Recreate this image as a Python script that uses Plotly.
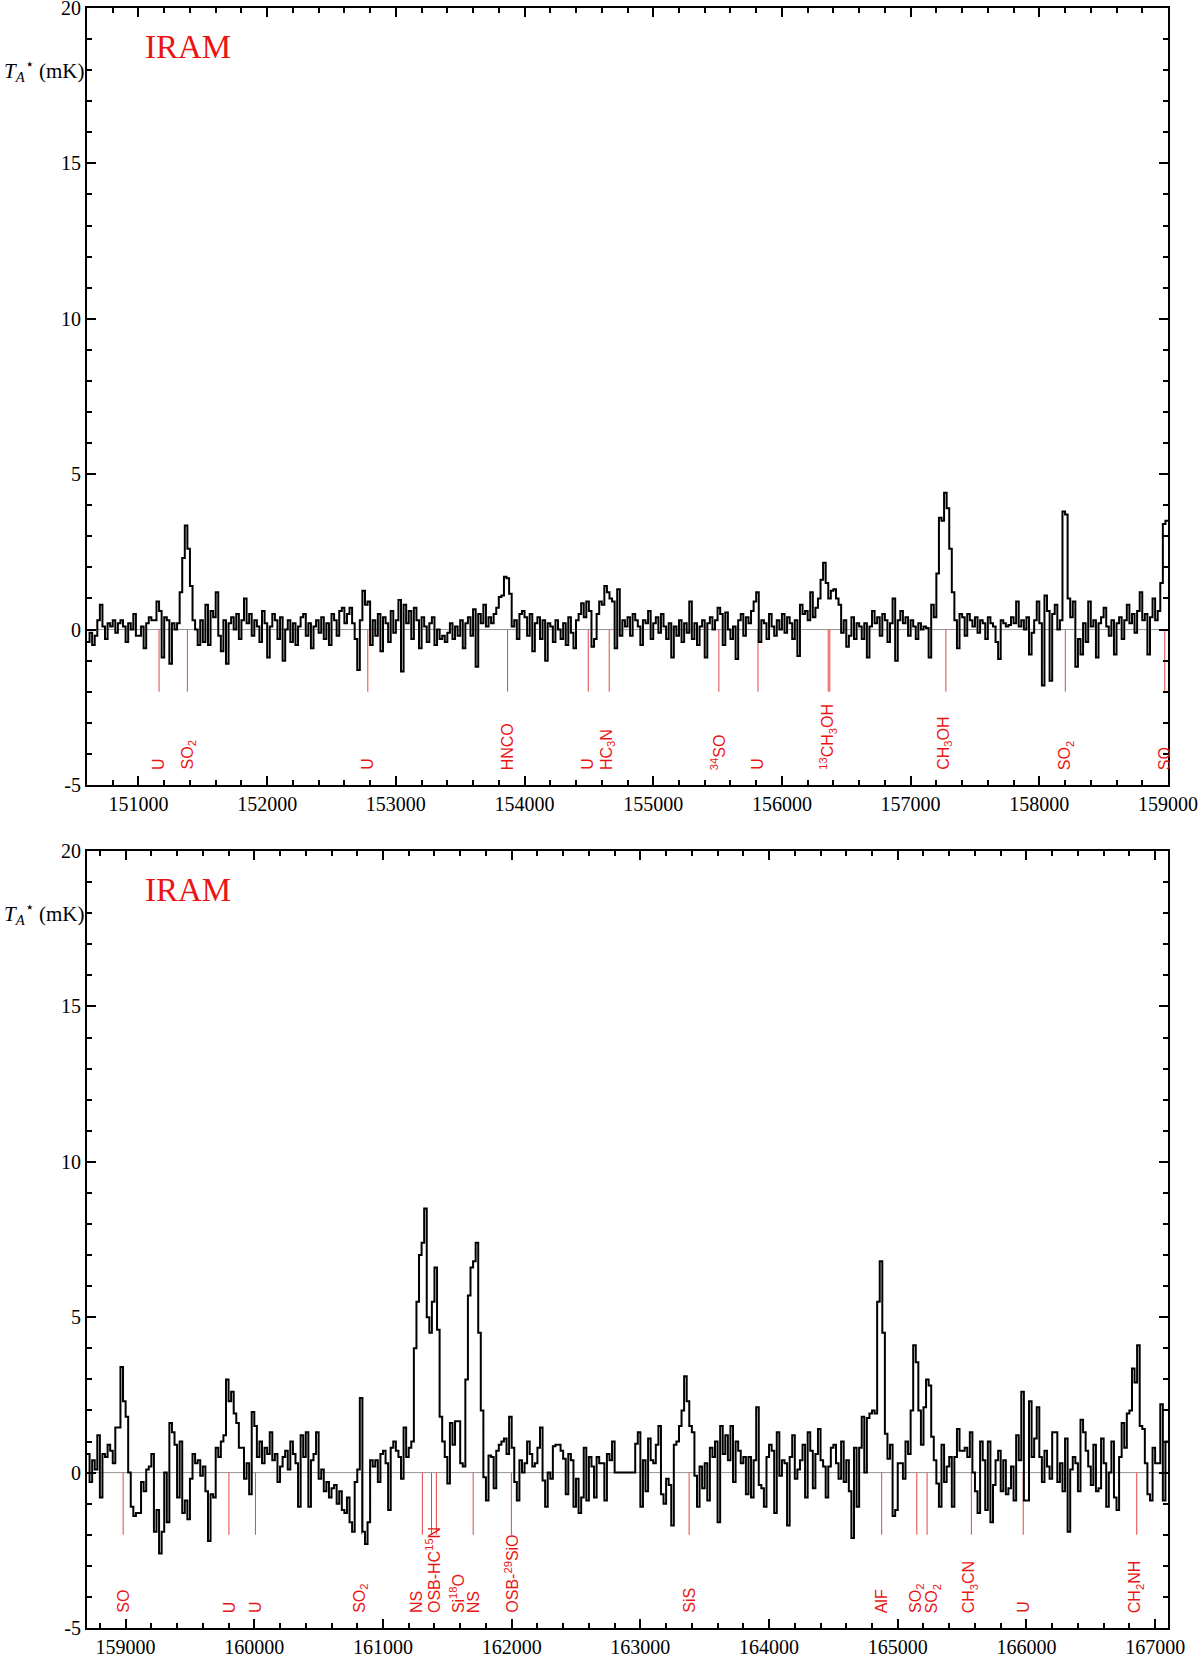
import plotly.graph_objects as go

# ---------------- data ----------------
CHANNEL_MHZ = 20
TOP_START = 150600
BOT_START = 158700
TOP_RANGE = [150600, 159000]
BOT_RANGE = [158700, 167100]
Y_RANGE = [-5, 20]

# antenna temperature (mK), 20 MHz channels, top panel starting at 150600 MHz
top_ta = [
    -0.4, -0.1, -0.5, -0.2, 0.3, 0.8, 0.1, -0.3, 0.2, 0.1, 0.3, -0.1, 0.2, 0.3, 0.1, -0.4, 0.2, 0.0, 0.5, -0.2,
    -0.2, 0.1, -0.6, 0.2, 0.4, 0.3, 0.3, 0.9, 0.6, -0.9, 0.4, 0.3, -1.1, 0.2, 0.0, 0.2, 1.2, 2.3, 3.35, 2.6,
    1.4, 0.3, 0.0, -0.5, 0.3, -0.4, 0.8, -0.5, 0.6, 0.4, 1.2, -0.2, -0.7, 0.3, -1.1, 0.2, 0.4, 0.0, 0.5, -0.3,
    0.3, 1.0, 0.2, 0.5, -0.2, 0.3, 0.1, -0.4, 0.6, 0.2, -0.9, 0.1, 0.5, 0.3, -0.3, 0.4, -1.0, 0.0, 0.3, -0.4,
    0.2, -0.5, 0.1, 0.4, 0.5, -0.2, 0.2, -0.6, 0.1, 0.3, -0.1, 0.4, -0.3, 0.2, -0.5, 0.5, 0.3, -0.2, 0.6, 0.7,
    0.2, 0.5, 0.7, 0.2, -0.3, -1.3, 0.3, 1.25, 0.8, 0.9, -0.5, 0.3, -0.2, 0.5, -0.7, 0.4, 0.2, -0.4, 0.6, -0.1,
    0.3, 0.95, -1.35, 0.8, 0.2, 0.6, -0.3, 0.7, 0.3, -0.6, 0.4, 0.1, -0.4, 0.2, 0.4, -0.5, 0.0, -0.3, -0.2, -0.4,
    -0.1, 0.2, -0.3, 0.1, -0.2, 0.3, -0.6, 0.2, 0.4, -0.2, 0.65, -1.2, 0.5, 0.2, 0.8, 0.1, 0.4, 0.2, 0.5, 0.7,
    1.05, 1.1, 1.7, 1.65, 1.15, 0.1, 0.3, -0.3, 0.5, 0.6, 0.4, -0.2, 0.5, -0.7, 0.2, 0.4, -0.3, 0.3, -1.0, 0.2,
    0.1, -0.4, 0.3, 0.0, -0.3, 0.2, -0.5, 0.4, -0.1, -0.6, 0.3, 0.5, 0.85, 0.4, 0.9, 0.6, -0.55, -0.3, 0.5, 0.9,
    0.8, 1.4, 1.2, 1.0, 0.9, -0.6, 1.3, -0.2, 0.3, 0.1, 0.4, -0.2, 0.5, 0.3, 0.1, -0.5, 0.3, 0.2, 0.6, -0.3,
    0.2, 0.4, -0.1, 0.5, 0.1, -0.3, 0.2, -0.9, 0.1, -0.2, 0.3, -0.4, 0.2, -0.1, 0.9, -0.3, 0.2, -0.5, 0.1, 0.3,
    -0.9, 0.2, 0.4, 0.0, 0.3, 0.7, 0.5, -0.5, 0.55, 0.0, -0.3, 0.1, -0.95, 0.3, 0.5, -0.2, 0.4, 0.2, 0.6, 0.9,
    1.2, -0.4, 0.3, 0.2, -0.3, 0.5, 0.1, -0.2, 0.3, 0.0, 0.5, -0.1, 0.4, 0.2, -0.3, 0.3, -0.85, 0.8, 0.5, 0.6,
    0.3, 1.2, 0.4, 0.7, 1.0, 1.6, 2.15, 1.5, 1.0, 1.25, 1.3, 1.0, 0.8, -0.1, 0.3, -0.55, -0.2, 0.4, -0.3, 0.2,
    0.1, -0.3, 0.2, -0.9, 0.1, 0.6, 0.2, 0.4, -0.2, 0.5, 0.3, -0.4, 0.2, 1.0, -1.0, 0.3, 0.6, 0.2, 0.4, -0.2,
    0.3, 0.1, -0.3, 0.2, 0.0, 0.1, 0.05, -0.9, 0.8, 0.4, 1.8, 3.6, 3.5, 4.4, 3.9, 2.6, 1.2, 0.3, -0.6, 0.5,
    0.4, -0.2, 0.5, 0.3, 0.1, 0.4, -0.1, 0.3, 0.2, -0.3, 0.4, 0.2, 0.1, -0.4, -0.95, 0.3, 0.2, 0.1, 0.15, 0.4,
    0.2, 0.9, 0.1, 0.3, 0.0, 0.4, -0.8, -0.1, 0.3, 0.9, 0.2, -1.8, 1.1, 0.6, -1.65, 0.5, 0.8, 0.0, 0.3, 3.8,
    3.7, 1.0, 0.4, 0.9, -1.2, -0.3, -0.8, 0.2, -0.4, 0.9, 0.1, 0.3, -0.9, 0.2, 0.4, 0.7, 0.1, -0.2, 0.3, -0.8,
    0.2, 0.4, -0.3, 0.3, 0.8, 0.2, 0.5, -0.1, 0.6, 1.2, 0.3, 0.5, -0.8, 0.4, 1.0, 0.3, 0.6, 1.5, 3.4, 3.5,
]

# bottom panel starting at 158700 MHz
bot_ta = [
    0.6, -0.3, 0.4, 0.1, 1.2, -0.8, 0.6, 0.5, 0.9, 0.7, 0.3, 1.45, 1.45, 3.4, 2.3, 1.8, 0.0, -1.1, -1.4, -1.3,
    -1.3, -0.3, -0.6, 0.1, 0.2, 0.6, -1.9, -1.2, -2.6, -1.9, 0.0, -1.6, 1.6, 1.3, 0.9, -0.8, 1.0, -1.3, -0.9, -1.5,
    -0.2, 0.6, 0.3, 0.4, -0.1, 0.2, -0.6, -2.2, -0.7, -0.8, 0.8, 0.5, 1.0, 1.2, 3.0, 2.3, 2.6, 1.9, 1.6, 0.8,
    0.8, -0.2, 0.3, -0.7, 1.95, 1.5, 0.5, 1.0, 0.3, 0.8, 0.6, 1.3, 0.4, 0.6, -0.3, 0.2, 0.5, 0.7, 0.1, 1.0,
    0.6, 0.3, -1.1, 1.2, 0.5, 1.3, -1.1, 0.4, 0.6, 1.3, -0.2, 0.1, -0.6, -0.3, -0.8, -0.5, -0.4, -1.0, -0.6, -1.2,
    -1.3, -0.8, -1.6, -1.9, -0.3, 0.1, 2.4, -1.9, -2.3, -1.6, 0.4, 0.2, 0.4, -0.3, 0.6, 0.7, 0.3, -1.2, 0.8, 1.0,
    0.7, 0.5, -0.2, 1.45, 0.5, 0.8, 1.0, 4.0, 5.5, 7.0, 7.4, 8.5, 5.0, 4.5, 5.5, 6.6, 4.6, 1.8, 1.0, 0.5,
    -0.35, 1.6, 0.9, 1.65, 1.65, 0.3, 0.2, 3.0, 5.7, 6.6, 6.8, 7.4, 4.5, 2.0, -0.15, -0.9, 0.55, 0.5, -0.5, 0.7,
    0.9, 1.0, 1.1, 0.6, 1.8, 0.8, -0.3, -0.9, 0.4, 0.0, 0.3, 1.0, 0.6, 0.2, 0.3, 0.8, 1.45, -0.25, -1.1, 0.0,
    -0.2, 0.85, 0.9, 0.9, 0.7, 0.45, -0.7, 0.6, 0.4, -1.1, -0.2, -1.3, -0.8, 0.8, -0.9, 0.5, 0.2, -0.8, 0.5, 0.3,
    0.3, -0.9, 0.6, 0.4, 1.0, 0.0, 0.0, 0.0, 0.0, 0.0, 0.0, 0.0, 0.0, 0.93, 1.3, -1.1, 0.4, -0.6, 1.1, 0.4,
    0.3, 0.9, 1.5, -0.7, -1.0, -0.2, -0.4, -1.7, 0.9, 1.0, 1.5, 2.0, 3.1, 2.3, 1.5, 1.3, -0.1, -1.1, 0.2, -0.5,
    0.3, -0.9, 0.8, 0.5, 1.0, -1.6, 1.5, 0.6, 1.2, 0.4, 1.5, -0.3, 1.0, 0.7, 0.3, 0.5, -0.7, 0.5, -0.8, 0.4,
    2.1, -0.4, -0.5, -1.1, 0.5, 0.9, 0.7, -1.3, 1.3, -0.1, 0.4, 0.3, -1.7, 0.5, 1.2, -0.2, 0.1, 0.4, 0.9, -0.8,
    1.3, 0.7, -0.5, 0.6, 1.4, 0.4, 0.2, -0.8, 0.2, 0.8, 0.9, 0.3, -0.2, 1.0, -0.3, 0.4, -0.6, -2.1, 0.8, -1.1,
    0.8, 1.8, 0.0, 1.76, 1.9, 2.0, 1.9, 5.5, 6.8, 4.5, 1.25, 0.45, 0.9, -1.4, -1.2, 0.3, 0.3, -0.2, 1.0, 0.6,
    2.0, 4.1, 3.55, 2.0, 0.9, 2.1, 3.0, 2.8, 1.15, 0.4, -0.35, -1.1, 0.9, -0.3, 0.2, 0.5, -1.1, 0.5, 1.4, 0.7,
    0.7, 0.8, 0.5, 1.3, 0.0, -0.6, -1.3, 1.0, 0.4, -1.2, 1.0, -1.6, -0.4, 0.4, 0.7, -0.6, 0.4, -0.7, -0.5, 0.2,
    -0.9, 1.2, 0.4, 2.6, -0.9, -0.9, 2.3, 0.5, 1.1, 2.1, 0.5, -0.3, 0.7, 0.2, -0.2, 1.3, 1.3, -0.3, 0.3, -0.6,
    1.1, -1.9, 0.1, 0.5, 0.3, -0.6, 1.7, 1.3, 0.7, 0.2, -0.4, 0.9, -0.6, -0.5, 1.1, 0.3, -1.1, 0.0, 1.0, -0.8,
    -1.2, 0.5, 1.6, 0.8, 1.9, 2.0, 3.35, 2.9, 4.1, 1.5, 1.4, 0.3, -0.7, -0.9, 0.8, 0.3, 0.3, 2.2, -0.9, 1.0,
]

# line identifications (MHz)
top_line_freq = [151160, 151380, 152782, 153868, 154495, 154658, 155510, 155814,
                 156360, 156372, 157274, 158202, 158975]
top_label_freq = [151160, 151385, 152782, 153870, 154492, 154645, 155505, 155812,
                  156356, 157262, 158205, 158975]
top_label_text = ["U", "SO<sub>2</sub>", "U", "HNCO", "U", "HC<sub>3</sub>N",
                  "<sup>34</sup>SO", "U", "<sup>13</sup>CH<sub>3</sub>OH",
                  "CH<sub>3</sub>OH", "SO<sub>2</sub>", "SO"]

bot_line_freq = [158981, 159803, 160009, 160835, 161306, 161377, 161415, 161701,
                 161998, 163379, 164875, 165148, 165228, 165572, 165975, 166857]
bot_label_freq = [158981, 159805, 160005, 160824, 161256, 161389, 161572, 161702,
                  162000, 163379, 164872, 165145, 165273, 165556, 165972, 166845]
bot_label_text = ["SO", "U", "U", "SO<sub>2</sub>", "NS", "OSB-HC<sup>15</sup>N",
                  "Si<sup>18</sup>O", "NS", "OSB-<sup>29</sup>SiO", "SiS", "AlF",
                  "SO<sub>2</sub>", "SO<sub>2</sub>", "CH<sub>3</sub>CN", "U",
                  "CH<sub>2</sub>NH"]

Y_TICKS = [-5, 0, 5, 10, 15, 20]
Y_TICK_TEXT = ["-5", "0", "5", "10", "15", "20"]
TOP_XTICKS = [151000, 152000, 153000, 154000, 155000, 156000, 157000, 158000, 159000]
BOT_XTICKS = [159000, 160000, 161000, 162000, 163000, 164000, 165000, 166000, 167000]

LINE_DEPTH = -2.0
LABEL_BASE = -4.55

# ---------------- figure ----------------
RED = "rgb(235,20,20)"
MARK_RED = "rgb(230,70,70)"
SERIF = "Liberation Serif"
SANS = "Liberation Sans"

fig = go.Figure()


def add_panel(values, start, line_freq, xa, ya):
    n = len(values)
    xs = [start + i * CHANNEL_MHZ for i in range(n + 1)]
    ys = list(values) + [values[-1]]
    # zero baseline
    fig.add_trace(go.Scatter(x=[xs[0], xs[-1]], y=[0, 0], mode="lines",
                             line=dict(color="rgb(150,150,150)", width=1),
                             xaxis=xa, yaxis=ya, showlegend=False, hoverinfo="skip"))
    # red line markers
    mx, my = [], []
    for f in line_freq:
        mx += [f, f, None]
        my += [0, LINE_DEPTH, None]
    fig.add_trace(go.Scatter(x=mx, y=my, mode="lines",
                             line=dict(color=MARK_RED, width=1),
                             xaxis=xa, yaxis=ya, showlegend=False, hoverinfo="skip"))
    # spectrum
    fig.add_trace(go.Scatter(x=xs, y=ys, mode="lines", line_shape="hv",
                             line=dict(color="black", width=2),
                             xaxis=xa, yaxis=ya, showlegend=False))


add_panel(top_ta, TOP_START, top_line_freq, "x", "y")
add_panel(bot_ta, BOT_START, bot_line_freq, "x2", "y2")

annotations = []


def add_labels(freqs, texts, xref, yref):
    for f, t in zip(freqs, texts):
        annotations.append(dict(x=f, y=LABEL_BASE, xref=xref, yref=yref, text=t,
                                textangle=-90, showarrow=False, xanchor="center",
                                yanchor="bottom", borderpad=0,
                                font=dict(family=SANS, size=16, color=RED)))


add_labels(top_label_freq, top_label_text, "x", "y")
add_labels(bot_label_freq, bot_label_text, "x2", "y2")

for xr, yr in (("x", "y"), ("x2", "y2")):
    annotations.append(dict(x=0.052, y=0.95, xref=xr + " domain", yref=yr + " domain",
                            text="IRAM", showarrow=False, xanchor="left", yanchor="middle",
                            font=dict(family=SERIF, size=33, color=RED)))
    annotations.append(dict(x=0, y=18, xref=xr + " domain", yref=yr,
                            text="<i>T</i><sub><i>A</i></sub><sup>\u22c6</sup> (mK)",
                            showarrow=False, xanchor="right", yanchor="middle", xshift=-1,
                            font=dict(family=SERIF, size=21, color="black")))

axis_common = dict(showline=True, linecolor="black", linewidth=2, mirror="ticks",
                   ticks="inside", ticklen=9, tickwidth=1.5, tickcolor="black",
                   showgrid=False, zeroline=False, automargin=False,
                   ticklabeloverflow="allow",
                   tickfont=dict(family=SERIF, size=20, color="black"))

xminor = dict(ticks="inside", ticklen=5, tickwidth=1.5, tickcolor="black", dtick=200,
              showgrid=False)
yminor = dict(ticks="inside", ticklen=5, tickwidth=1.5, tickcolor="black", dtick=1,
              showgrid=False)

fig.update_layout(
    template="none",
    width=1200, height=1656,
    margin=dict(l=87, r=32, t=8, b=28, autoexpand=False),
    paper_bgcolor="white", plot_bgcolor="white",
    showlegend=False,
    annotations=annotations,
    xaxis=dict(axis_common, range=TOP_RANGE, anchor="y", tickvals=TOP_XTICKS,
               ticktext=[str(v) for v in TOP_XTICKS], minor=xminor),
    yaxis=dict(axis_common, range=Y_RANGE, anchor="x", domain=[0.5204, 1.0],
               tickvals=Y_TICKS, ticktext=Y_TICK_TEXT, minor=yminor),
    xaxis2=dict(axis_common, range=BOT_RANGE, anchor="y2", tickvals=BOT_XTICKS,
                ticktext=[str(v) for v in BOT_XTICKS], minor=xminor),
    yaxis2=dict(axis_common, range=Y_RANGE, anchor="x2", domain=[0.0, 0.4796],
                tickvals=Y_TICKS, ticktext=Y_TICK_TEXT, minor=yminor),
)

fig.write_html("out.html", config={"displayModeBar": False},
               post_script="document.body.style.margin='0';")
